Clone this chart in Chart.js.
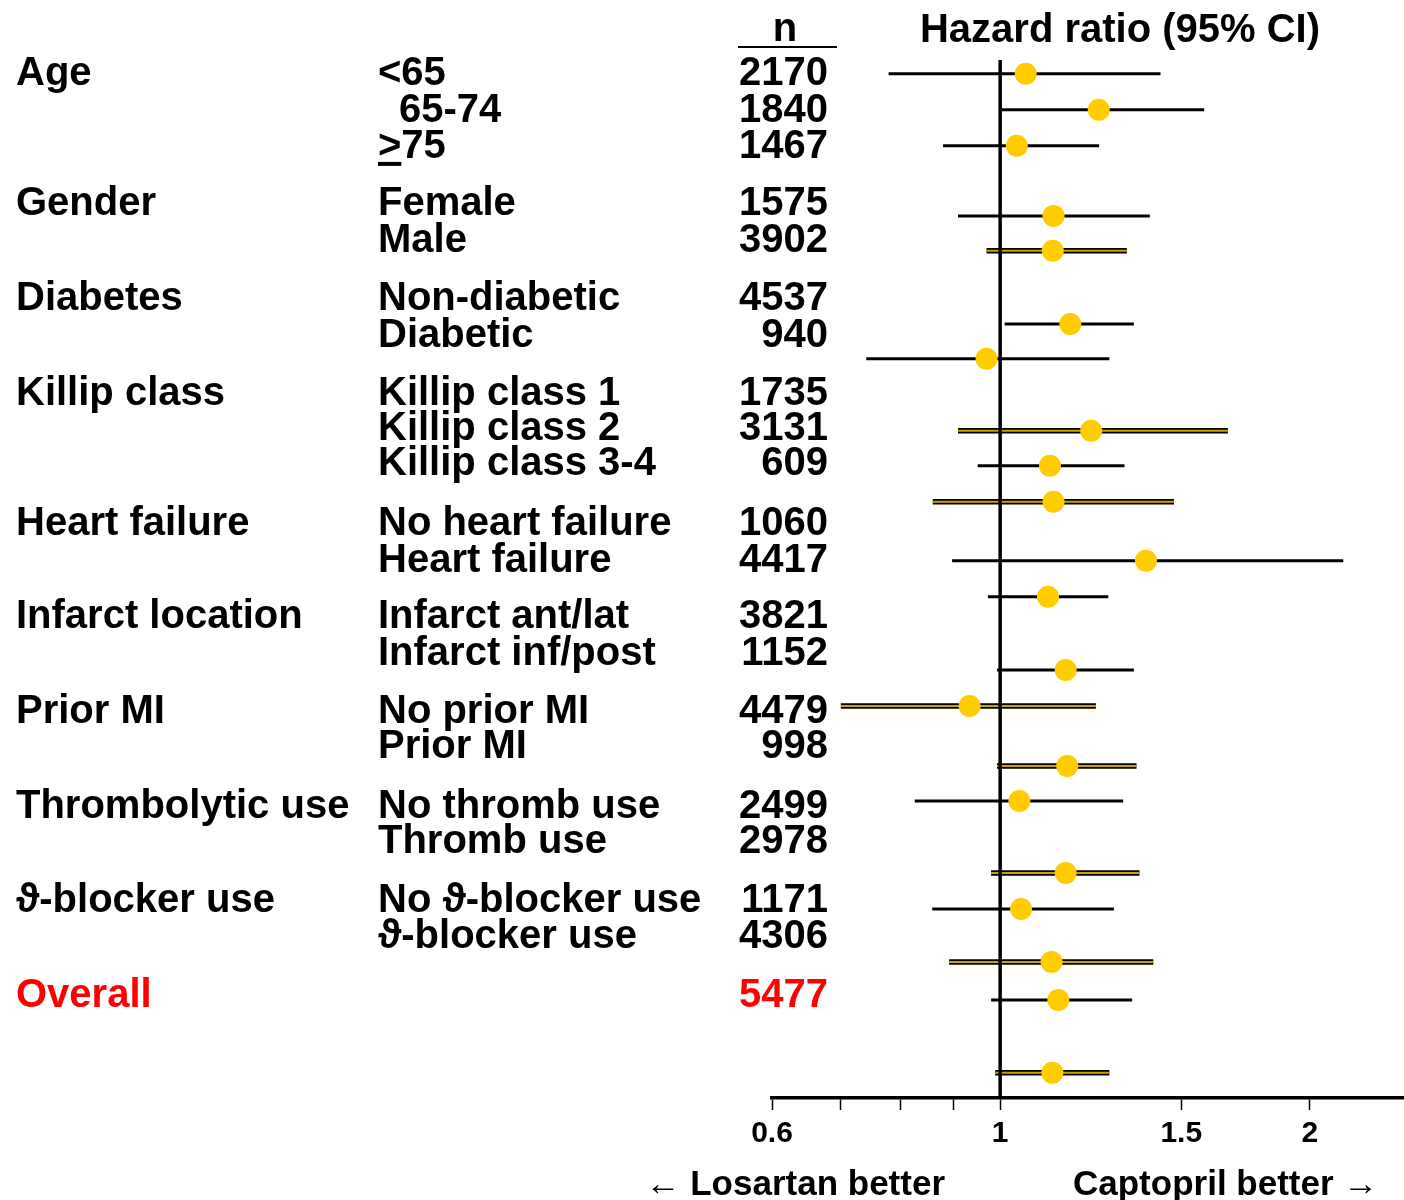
<!DOCTYPE html>
<html lang="en">
<head>
    <meta charset="UTF-8">
    <title>Hazard ratio by subgroup</title>
    <script src="https://cdn.jsdelivr.net/npm/chart.js"></script>
    <style>
        body { margin: 0; background: #fff; }
        #wrap { width: 1404px; height: 1200px; }
    </style>
</head>
<body>
<div id="wrap"><canvas id="forest" width="1404" height="1200"></canvas></div>
<script>
    // subgroup table
    const groups = ['Age', '', '', 'Gender', '', 'Diabetes', '', 'Killip class', '', '',
        'Heart failure', '', 'Infarct location', '', 'Prior MI', '', 'Thrombolytic use', '',
        '\u03D1-blocker use', '', 'Overall'];
    const subgroups = ['<65', '65-74', '>75', 'Female', 'Male', 'Non-diabetic', 'Diabetic',
        'Killip class 1', 'Killip class 2', 'Killip class 3-4', 'No heart failure', 'Heart failure',
        'Infarct ant/lat', 'Infarct inf/post', 'No prior MI', 'Prior MI', 'No thromb use', 'Thromb use',
        'No \u03D1-blocker use', '\u03D1-blocker use', ''];
    const nValues = [2170, 1840, 1467, 1575, 3902, 4537, 940, 1735, 3131, 609, 1060, 4417,
        3821, 1152, 4479, 998, 2499, 2978, 1171, 4306, 5477];
    // row slot of each text line and of each marker (markers drift from text in the original)
    const textRow = [0, 1.03, 2.03, 3.61, 4.64, 6.25, 7.28, 8.89, 9.86, 10.83, 12.5, 13.53,
        15.08, 16.11, 17.72, 18.69, 20.36, 21.33, 22.97, 23.97, 25.61];
    const markerRow = [0.08, 1.08, 2.08, 4.03, 5.0, 7.03, 8.0, 10.0, 10.97, 11.97, 13.61, 14.61,
        16.64, 17.64, 19.31, 20.28, 22.28, 23.28, 24.75, 25.81, 27.83];
    // hazard ratios and 95% CI
    const hr = [1.059, 1.247, 1.038, 1.127, 1.125, 1.170, 0.970, 1.226, 1.118, 1.127, 1.386, 1.113,
        1.158, 0.934, 1.162, 1.044, 1.158, 1.048, 1.122, 1.139, 1.124];
    const ciLow = [0.779, 1.004, 0.880, 0.910, 0.970, 1.010, 0.741, 0.910, 0.951, 0.860, 0.898, 0.973,
        0.993, 0.700, 0.993, 0.826, 0.980, 0.859, 0.892, 0.980, 0.989];
    const ciHigh = [1.432, 1.579, 1.248, 1.398, 1.328, 1.349, 1.277, 1.665, 1.321, 1.476, 2.156, 1.274,
        1.349, 1.239, 1.357, 1.317, 1.366, 1.290, 1.409, 1.344, 1.277];
    const goldRow = [false, false, false, false, true, false, false, true, false, true, false, false,
        false, true, true, false, true, false, true, false, true];
    const xTicks = [0.6, 0.7, 0.8, 0.9, 1, 1.5, 2];
    const xTickLabels = [0.6, 1, 1.5, 2];

    const FONT = '"Liberation Sans", Arial, sans-serif';
    const Y_MIN = -0.3, Y_MAX = 28.53;

    const datasets = [];
    // markers on top
    datasets.push({
        data: hr.map((v, i) => ({x: v, y: markerRow[i]})),
        pointRadius: 11, pointHoverRadius: 11,
        pointBackgroundColor: '#FFCC00', pointBorderWidth: 0,
        showLine: false, order: 0
    });
    // reference line at HR = 1
    datasets.push({
        data: [{x: 1, y: Y_MIN}, {x: 1, y: Y_MAX}],
        showLine: true, borderColor: '#000', borderWidth: 3.5, pointRadius: 0, order: 1
    });
    hr.forEach((v, i) => {
        const seg = [{x: ciLow[i], y: markerRow[i]}, {x: ciHigh[i], y: markerRow[i]}];
        if (goldRow[i]) {
            datasets.push({data: seg, showLine: true, borderColor: '#C9A100', borderWidth: 2,
                pointRadius: 0, order: 2});
            datasets.push({data: seg, showLine: true, borderColor: '#000', borderWidth: 5.5,
                pointRadius: 0, order: 3});
        } else {
            datasets.push({data: seg, showLine: true, borderColor: '#000', borderWidth: 3,
                pointRadius: 0, order: 4});
        }
    });

    const textPlugin = {
        id: 'tableText',
        afterDraw(chart) {
            const c = chart.ctx;
            const y = chart.scales.y;
            c.save();
            c.textBaseline = 'alphabetic';
            c.font = 'bold 40px ' + FONT;
            for (let i = 0; i < textRow.length; i++) {
                const base = y.getPixelForValue(textRow[i]) + 14;
                const isOverall = groups[i] === 'Overall';
                c.fillStyle = isOverall ? '#FF0000' : '#000';
                c.textAlign = 'left';
                if (groups[i]) c.fillText(groups[i], 16, base);
                if (subgroups[i]) {
                    const sx = subgroups[i] === '65-74' ? 399 : 378;
                    c.fillText(subgroups[i], sx, base);
                    if (subgroups[i] === '>75') {
                        const w = c.measureText('>').width;
                        c.fillRect(sx, base + 4, w, 4);
                    }
                }
                c.textAlign = 'right';
                c.fillText(String(nValues[i]), 828, base);
            }
            // headers
            c.fillStyle = '#000';
            c.textAlign = 'center';
            c.fillText('n', 785, 41);
            c.fillRect(738, 46, 99, 2);
            c.fillText('Hazard ratio (95% CI)', 1120, 42);
            // direction labels
            c.font = 'bold 35px ' + FONT;
            c.textAlign = 'right';
            c.fillText('\u2190 Losartan better', 945, 1195);
            c.textAlign = 'left';
            c.fillText('Captopril better \u2192', 1073, 1195);
            c.restore();
        }
    };

    new Chart(document.getElementById('forest'), {
        type: 'scatter',
        data: {datasets: datasets},
        options: {
            responsive: false,
            animation: false,
            layout: {autoPadding: false, padding: {left: 772, right: 0, top: 60, bottom: 42}},
            plugins: {legend: {display: false}, tooltip: {enabled: false}},
            scales: {
                x: {
                    type: 'logarithmic',
                    min: 0.6,
                    max: 2.47,
                    afterBuildTicks: axis => { axis.ticks = xTicks.map(v => ({value: v})); },
                    ticks: {
                        autoSkip: false, maxRotation: 0, padding: 6, color: '#000',
                        font: {family: FONT, size: 30, weight: 'bold'},
                        callback: v => xTickLabels.includes(v) ? String(v) : ''
                    },
                    grid: {display: true, drawOnChartArea: false, drawTicks: true,
                        tickLength: 12, tickWidth: 1.5, tickColor: '#000'},
                    border: {display: true, color: '#000', width: 3.5}
                },
                y: {type: 'linear', reverse: true, min: Y_MIN, max: Y_MAX, display: false}
            }
        },
        plugins: [textPlugin]
    });
</script>
</body>
</html>
